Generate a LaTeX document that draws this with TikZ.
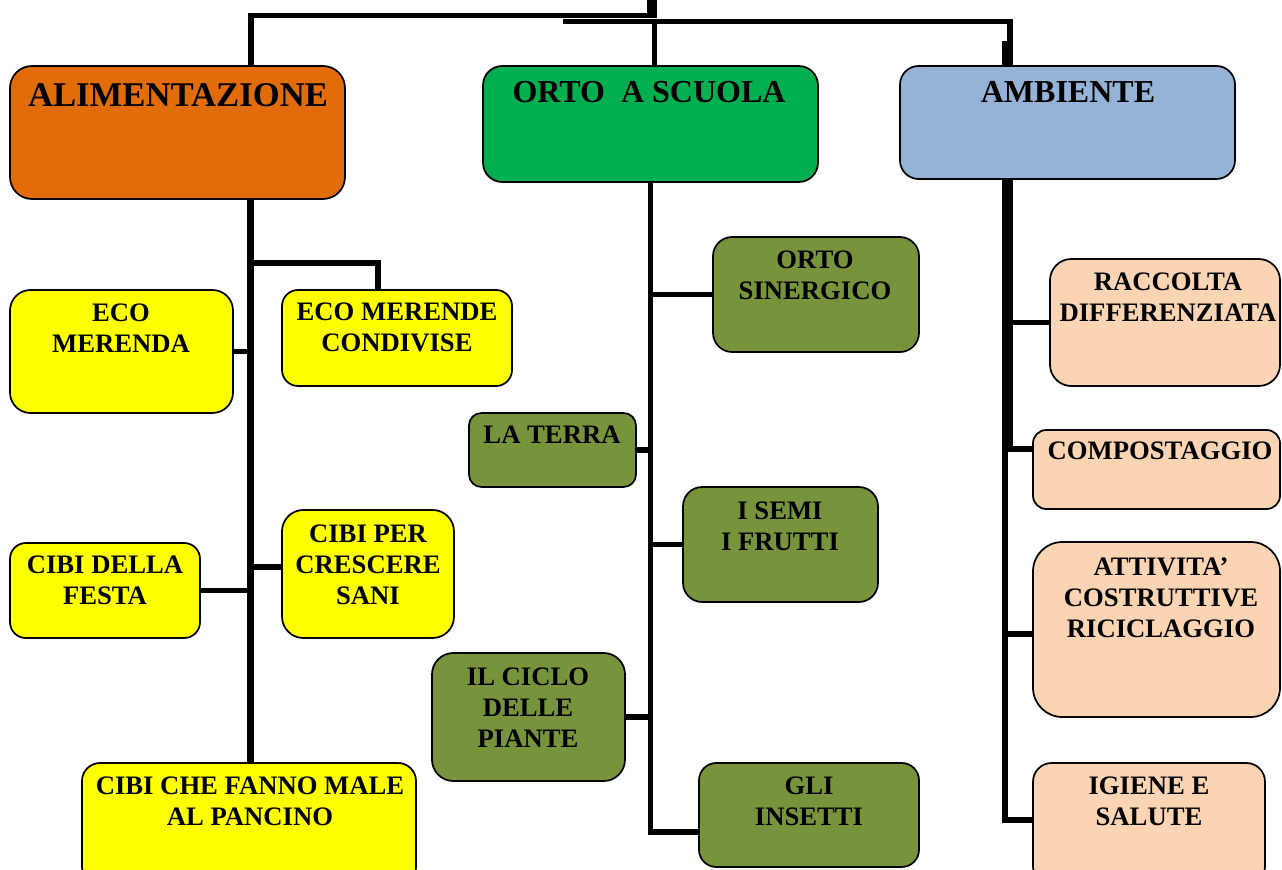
\documentclass[tikz,border=0pt]{standalone}
\usepackage{fontspec}
\setmainfont{Liberation Serif}
\usetikzlibrary{fit}
\definecolor{alimcol}{HTML}{E36C0A}
\definecolor{ortocol}{HTML}{00B050}
\definecolor{ambcol}{HTML}{95B3D7}
\definecolor{foodcol}{HTML}{FFFF00}
\definecolor{gardencol}{HTML}{77933C}
\definecolor{envcol}{HTML}{FBD4B4}
\begin{document}
\begin{tikzpicture}[x=0.75pt,y=-0.75pt,
  card/.style={draw=black, line width=1.3pt, inner sep=0pt},
  head/.style={font=\fontsize{24}{28}\selectfont\bfseries, inner sep=0pt, anchor=north},
  lbl/.style={font=\fontsize{20}{23.25}\selectfont\bfseries, align=center, inner sep=0pt, anchor=north},
  link/.style={draw=black, line width=4.1pt, line join=miter}]
\useasboundingbox (0,0) rectangle (1282,870);
\clip (0,0) rectangle (1282,870);

% --- main topics
\node[card, fill=alimcol, rounded corners=16.5pt, fit={(10,66) (345,199)}] (alim) {};
\node[card, fill=ortocol, rounded corners=14.5pt, fit={(483,66) (818,182)}] (orto) {};
\node[card, fill=ambcol, rounded corners=14pt, fit={(900,66) (1235,179)}] (amb) {};

% --- food
\node[card, fill=foodcol, rounded corners=15.4pt, fit={(10,290) (233,413)}] (ecomer) {};
\node[card, fill=foodcol, rounded corners=12pt, fit={(282,290) (512,386)}] (ecocond) {};
\node[card, fill=foodcol, rounded corners=11.9pt, fit={(10,543) (200,638)}] (festa) {};
\node[card, fill=foodcol, rounded corners=16pt, fit={(282,510) (454,638)}] (crescere) {};
\node[card, fill=foodcol, rounded corners=13.5pt, fit={(82,763) (416,885)}] (pancino) {};

% --- school garden
\node[card, fill=gardencol, rounded corners=14.4pt, fit={(713,237) (919,352)}] (sinerg) {};
\node[card, fill=gardencol, rounded corners=9.4pt, fit={(469,413) (636,487)}] (terra) {};
\node[card, fill=gardencol, rounded corners=14.4pt, fit={(683,487) (878,602)}] (semi) {};
\node[card, fill=gardencol, rounded corners=16pt, fit={(432,653) (625,781)}] (ciclo) {};
\node[card, fill=gardencol, rounded corners=13pt, fit={(699,763) (919,867)}] (insetti) {};

% --- environment
\node[card, fill=envcol, rounded corners=16pt, fit={(1050,259) (1280,386)}] (raccolta) {};
\node[card, fill=envcol, rounded corners=10pt, fit={(1033,430) (1280,509)}] (compost) {};
\node[card, fill=envcol, rounded corners=22pt, fit={(1033,542) (1280,717)}] (attiv) {};
\node[card, fill=envcol, rounded corners=14pt, fit={(1033,763) (1265,885)}] (igiene) {};

% --- labels
\node[head, font=\fontsize{26}{30}\selectfont\bfseries] (t-alim) at (178,83) {ALIMENTAZIONE};
\node[head] (t-orto) at (649,81) {ORTO\ \ A SCUOLA};
\node[head] (t-amb) at (1068,81) {AMBIENTE};

\node[lbl] (t-ecomer) at (121,304) {ECO\\MERENDA};
\node[lbl] (t-ecocond) at (397,303) {ECO MERENDE\\CONDIVISE};
\node[lbl] (t-festa) at (105,556) {CIBI DELLA\\FESTA};
\node[lbl] (t-crescere) at (368,525) {CIBI PER\\CRESCERE\\SANI};
\node[lbl] (t-pancino) at (250,777) {CIBI CHE FANNO MALE\\AL PANCINO};
\node[lbl] (t-sinerg) at (815,251) {ORTO\\SINERGICO};
\node[lbl] (t-terra) at (552,426) {LA TERRA};
\node[lbl] (t-semi) at (780,502) {I SEMI\\I FRUTTI};
\node[lbl] (t-ciclo) at (528,668) {IL CICLO\\DELLE\\PIANTE};
\node[lbl] (t-insetti) at (809,777) {GLI\\INSETTI};
\node[lbl] (t-raccolta) at (1168,273) {RACCOLTA\\DIFFERENZIATA};
\node[lbl] (t-compost) at (1160,442) {COMPOSTAGGIO};
\node[lbl] (t-attiv) at (1161,557) {ATTIVITA’\\COSTRUTTIVE\\RICICLAGGIO};
\node[lbl] (t-igiene) at (1149,777) {IGIENE E\\SALUTE};

% --- top bars
\coordinate (root) at (652,0);
\coordinate (lbar) at (251,15.5);
\coordinate (lbarEnd) at (657,15.5);
\coordinate (rbarStart) at (563,21.3);
\coordinate (rbar) at (1010,21.3);
\coordinate (ortoDrop) at (654.5,21.3);
\coordinate (ambThick) at (1004.5,41);
\draw[link, line width=7.5pt] (root) -- ++(0,18);
\draw[link] (alim.north -| lbar) -- (lbar) -- (lbarEnd);
\draw[link] (rbarStart) -- (rbar) -- (amb.north -| rbar);
\draw[link, line width=3.8pt] (ortoDrop) -- (orto.north -| ortoDrop);
\draw[link] (ambThick) -- (amb.north -| ambThick);

% --- food branches
\coordinate (aJ) at (250.5,263);
\coordinate (aK) at (378,263);
\coordinate (aC) at (250.5,567);
\draw[link, line width=5.1pt] (alim.south -| aJ) -- (pancino.north -| aJ);
\draw[link] (aJ) -- (aK) -- (ecocond.north -| aK);
\draw[link] (ecomer.east) -- (ecomer.east -| aJ);
\draw[link] (festa.east) -- (festa.east -| aJ);
\draw[link] (aC) -- (aC -| crescere.west);

% --- garden branches
\coordinate (oJ) at (650.5,832);
\draw[link] (orto.south -| oJ) -- (oJ) -- (oJ -| insetti.west);
\draw[link] (sinerg.west) -- (sinerg.west -| oJ);
\draw[link] (terra.east) -- (terra.east -| oJ);
\draw[link] (semi.west) -- (semi.west -| oJ);
\draw[link] (ciclo.east) -- (ciclo.east -| oJ);

% --- environment branches
\coordinate (eA) at (1007.5,452);
\coordinate (eB) at (1005,449);
\coordinate (eC) at (1005,634);
\coordinate (eD) at (1005,820);
\draw[link, line width=8.3pt] (amb.south -| eA) -- (eA);
\draw[link, line width=4.5pt] (eB) -- (eC);
\draw[link] (eC) -- (eD) -- (eD -| igiene.west);
\draw[link] (raccolta.west) -- (raccolta.west -| eA);
\draw[link] (eB) -- (eB -| compost.west);
\draw[link] (eC) -- (eC -| attiv.west);
\end{tikzpicture}
\end{document}
